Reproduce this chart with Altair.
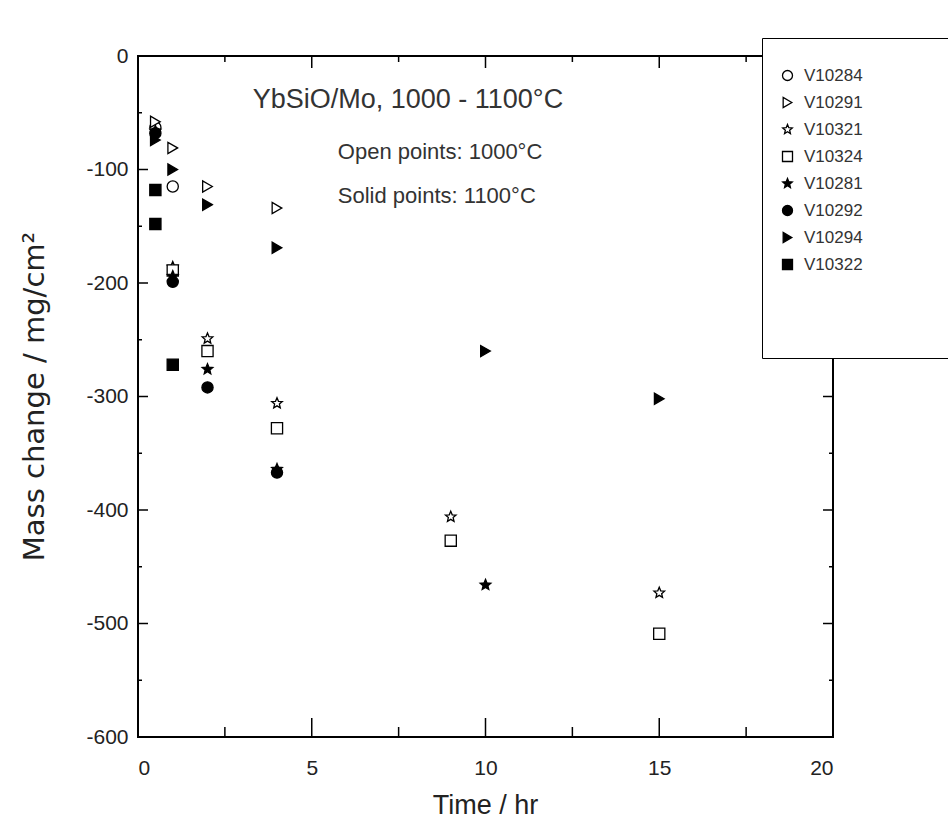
import altair as alt
import pandas as pd

# ---- data ----
series = ["V10284", "V10291", "V10321", "V10324", "V10281", "V10292", "V10294", "V10322"]

t_V10284 = [0.5, 1]
m_V10284 = [-63, -115]
t_V10291 = [0.5, 1, 2, 4]
m_V10291 = [-58, -81, -115, -134]
t_V10321 = [1, 2, 4, 9, 15]
m_V10321 = [-186, -249, -306, -406, -473]
t_V10324 = [1, 2, 4, 9, 15]
m_V10324 = [-189, -260, -328, -427, -509]
t_V10281 = [0.5, 1, 2, 4, 10]
m_V10281 = [-66, -194, -276, -364, -466]
t_V10292 = [0.5, 1, 2, 4]
m_V10292 = [-68, -199, -292, -367]
t_V10294 = [0.5, 1, 2, 4, 10, 15]
m_V10294 = [-74, -100, -131, -169, -260, -302]
t_V10322 = [0.5, 0.5, 1]
m_V10322 = [-118, -148, -272]

x_major = [0, 5, 10, 15, 20]
x_minor = [2.5, 7.5, 12.5, 17.5]
y_major = [0, -100, -200, -300, -400, -500, -600]
y_minor = [-50, -150, -250, -350, -450, -550]

ann_main = ["YbSiO/Mo, 1000 - 1100°C"]
ann_sub = ["Open points: 1000°C", "Solid points: 1100°C"]

# ---- build tables ----
series_t = [t_V10284, t_V10291, t_V10321, t_V10324, t_V10281, t_V10292, t_V10294, t_V10322]
series_m = [m_V10284, m_V10291, m_V10321, m_V10324, m_V10281, m_V10292, m_V10294, m_V10322]
rows = []
for name, ts, ms in zip(series, series_t, series_m):
    for t, m in zip(ts, ms):
        rows.append({"sample": name, "time": t, "mass": m})
df = pd.DataFrame(rows)

W, H = 695, 681
XMIN, XMAX, YMIN, YMAX = 0, 20, -600, 0
xpp = (XMAX - XMIN) / W   # data units per pixel
ypp = (YMAX - YMIN) / H

tick_rows = []
def add_x_ticks(vals, bottom_len, top_len):
    for v in vals:
        tick_rows.append({"time": v, "time2": v, "mass": YMIN, "mass2": YMIN + bottom_len * ypp})
        tick_rows.append({"time": v, "time2": v, "mass": YMAX, "mass2": YMAX - top_len * ypp})
def add_y_ticks(vals, left_len, right_len):
    for v in vals:
        tick_rows.append({"time": XMIN, "time2": XMIN + left_len * xpp, "mass": v, "mass2": v})
        tick_rows.append({"time": XMAX, "time2": XMAX - right_len * xpp, "mass": v, "mass2": v})
add_x_ticks(x_major, 19, 12)
add_x_ticks(x_minor, 10, 6)
add_y_ticks(y_major, 10, 10)
add_y_ticks(y_minor, 4, 4)
ticks_df = pd.DataFrame(tick_rows)

main_df = pd.DataFrame({"label": ann_main, "time": [3.3], "mass": [-39]})
sub_df = pd.DataFrame({"label": ann_sub, "time": [5.75, 5.75], "mass": [-85, -123]})

STAR = ("M0,-1L0.265,-0.364L0.951,-0.309L0.428,0.139L0.588,0.809L0,0.45"
        "L-0.588,0.809L-0.428,0.139L-0.951,-0.309L-0.265,-0.364Z")
shapes = ["circle", "triangle-right", STAR, "square", STAR, "circle", "triangle-right", "square"]
fills = ["white", "white", "white", "white", "black", "black", "black", "black"]
strokes = ["black"] * 8

FONT = "Liberation Sans"

xscale = alt.Scale(domain=[XMIN, XMAX], nice=False, zero=False)
yscale = alt.Scale(domain=[YMIN, YMAX], nice=False, zero=False)

xaxis = alt.Axis(values=x_major, title="Time / hr", labelFontSize=21, labelPadding=20,
                 titleFontSize=27, titleX=347, titleY=68, titleBaseline="middle",
                 titleAlign="center")
yaxis = alt.Axis(values=y_major, title="Mass change / mg/cm²", labelFontSize=21,
                 labelPadding=10, labelExpr="toString(datum.value)",
                 titleFont="DejaVu Sans", titleFontSize=29, titleX=-104, titleY=340,
                 titleAngle=270, titleAlign="center", titleBaseline="middle")

legend = alt.Legend(
    orient="none", legendX=624, legendY=-18,
    title=["\u00a0"] * 11, titleOrient="right", titlePadding=60, titleFontSize=14,
    titleLineHeight=30.5, titleLimit=2000,
    fillColor="white", strokeColor="black", padding=29,
    symbolSize=100, symbolOffset=-12, symbolStrokeColor="black", symbolStrokeWidth=1.3,
    labelFont=FONT, labelFontSize=17, labelColor="#333333", labelOffset=8,
    rowPadding=9,
)

points = alt.Chart(df).mark_point(filled=True, stroke="black", strokeWidth=1.3,
                                  size=125, opacity=1).encode(
    x=alt.X("time:Q", scale=xscale, axis=xaxis),
    y=alt.Y("mass:Q", scale=yscale, axis=yaxis),
    shape=alt.Shape("sample:N", scale=alt.Scale(domain=series, range=shapes), legend=legend),
    fill=alt.Fill("sample:N", scale=alt.Scale(domain=series, range=fills), legend=legend),
    stroke=alt.Stroke("sample:N", scale=alt.Scale(domain=series, range=strokes), legend=legend),
)

tick_layer = alt.Chart(ticks_df).mark_rule(color="black", strokeWidth=1.5).encode(
    x=alt.X("time:Q", scale=xscale),
    x2="time2:Q",
    y=alt.Y("mass:Q", scale=yscale),
    y2="mass2:Q",
)

main_text = alt.Chart(main_df).mark_text(align="left", baseline="middle", font=FONT,
                                         fontSize=27, color="#333333").encode(
    x=alt.X("time:Q", scale=xscale), y=alt.Y("mass:Q", scale=yscale), text="label:N")
sub_text = alt.Chart(sub_df).mark_text(align="left", baseline="middle", font=FONT,
                                       fontSize=22, color="#333333").encode(
    x=alt.X("time:Q", scale=xscale), y=alt.Y("mass:Q", scale=yscale), text="label:N")

chart = alt.layer(points, tick_layer, main_text, sub_text).properties(
    width=W, height=H,
    autosize=alt.AutoSizeParams(type="none"),
    padding={"left": 138, "top": 56, "right": 115, "bottom": 101},
    background="white",
).configure_view(
    stroke="black", strokeWidth=2
).configure_axis(
    domain=False, ticks=False, grid=False, labelFont=FONT, titleFont=FONT,
    labelColor="#222222", titleColor="#222222", titleFontWeight="normal",
)

chart.save("out.html", embed_options={"renderer": "svg", "actions": False})
